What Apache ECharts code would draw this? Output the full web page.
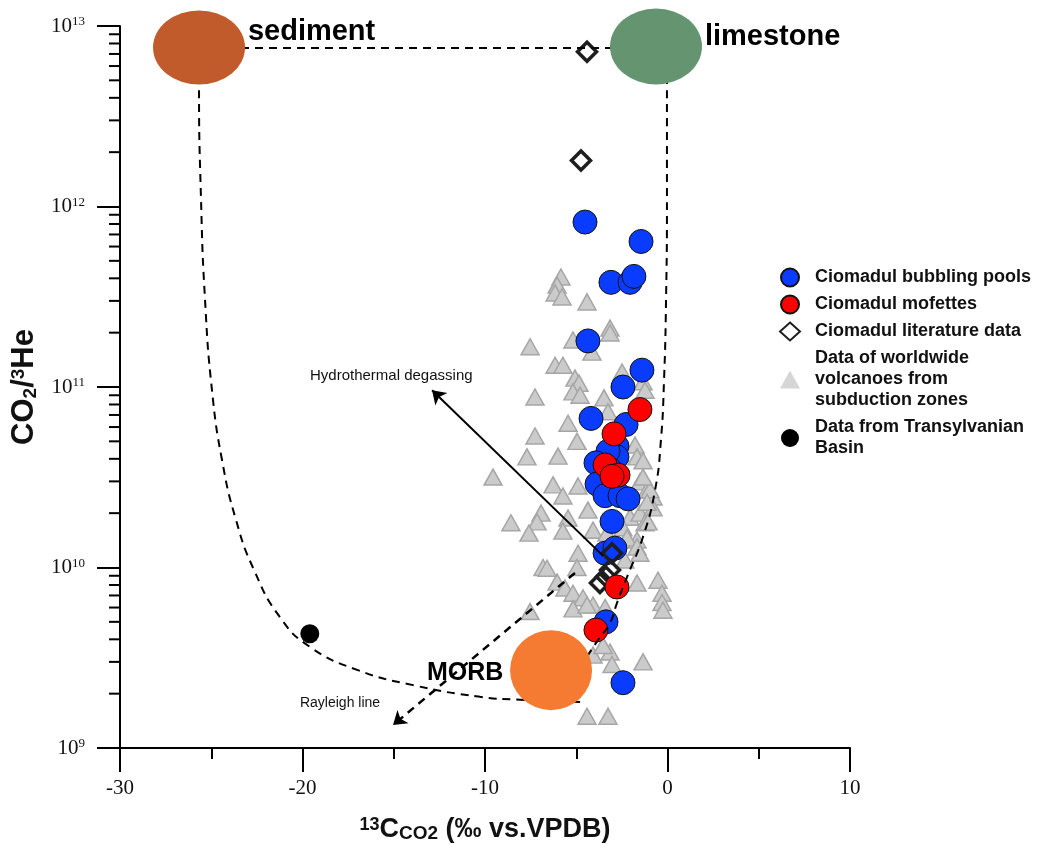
<!DOCTYPE html>
<html><head><meta charset="utf-8">
<script src="https://cdn.jsdelivr.net/npm/echarts@6/dist/echarts.min.js"></script>
<style>html,body{margin:0;padding:0;background:#fff}#c{width:1044px;height:844px}</style>
</head><body><div id="c"></div>
<script>
const bubblingPools = [[-4.52,8.2e11],[-1.45,6.4e11],[-3.10,3.8e11],[-2.05,3.8e11],[-1.84,4.1e11],[-4.36,1.8e11],[-1.40,1.24e11],[-2.44,1.0e11],[-4.19,6.7e10],[-2.27,6.2e10],[-2.77,4.7e10],[-2.77,4.1e10],[-3.26,4.4e10],[-3.92,3.8e10],[-3.15,3.5e10],[-3.86,2.9e10],[-3.42,2.5e10],[-2.60,2.5e10],[-2.16,2.4e10],[-3.04,1.8e10],[-3.42,1.2e10],[-2.88,1.28e10],[-3.37,5.0e9],[-2.44,2.3e9]];
const mofettes = [[-1.51,7.5e10],[-2.93,5.5e10],[-3.42,3.7e10],[-2.71,3.25e10],[-3.04,3.2e10],[-2.77,7.8e9],[-3.92,4.5e9]];
const literatureData = [[-4.41,7.2e12],[-4.74,1.8e12],[-3.04,1.2e10],[-3.15,9.7e9],[-3.37,8.9e9],[-3.70,8.2e9]];
const worldwideVolcanoes = [[-5.84,4.07e11],[-6.05,3.67e11],[-6.16,3.32e11],[-5.78,3.15e11],[-4.41,2.96e11],[-3.15,2.12e11],[-3.15,1.99e11],[-5.18,1.82e11],[-4.14,1.56e11],[-7.53,1.67e11],[-6.16,1.32e11],[-5.73,1.32e11],[-5.07,1.12e11],[-4.85,1.05e11],[-5.18,9.4e10],[-4.79,9.0e10],[-2.49,1.21e11],[-1.34,1.07e11],[-1.23,9.6e10],[-7.26,8.8e10],[-3.48,8.7e10],[-3.26,7.3e10],[-5.45,6.3e10],[-7.26,5.35e10],[-4.96,5.0e10],[-1.78,4.77e10],[-1.67,4.1e10],[-1.34,3.9e10],[-7.70,4.1e10],[-6.00,4.14e10],[-9.56,3.17e10],[-6.27,2.87e10],[-5.73,2.49e10],[-4.90,2.83e10],[-1.51,2.98e10],[-1.12,2.69e10],[-0.79,2.46e10],[-4.36,2.08e10],[-5.45,1.88e10],[-6.93,2.0e10],[-7.15,1.79e10],[-8.58,1.77e10],[-7.59,1.55e10],[-5.73,1.59e10],[-4.08,1.61e10],[-2.05,1.9e10],[-1.51,2.0e10],[-0.79,2.14e10],[-1.23,1.77e10],[-1.67,1.42e10],[-2.44,1.66e10],[-2.22,1.46e10],[-3.32,1.55e10],[-4.90,1.2e10],[-6.82,1.0e10],[-6.05,8.3e9],[-5.62,7.7e9],[-5.18,7.2e9],[-4.63,6.8e9],[-4.08,6.2e9],[-5.18,5.9e9],[-7.53,5.7e9],[-1.67,8.2e9],[-0.52,8.5e9],[-0.30,7.2e9],[-0.30,6.4e9],[-0.25,5.8e9],[-1.67,1.3e10],[-1.51,1.2e10],[-0.96,2.7e10],[-1.34,3.17e10],[-1.12,2.3e10],[-1.07,1.79e10],[-4.41,6.2e9],[-3.42,6.0e9],[-4.08,3.27e9],[-3.15,3.4e9],[-3.04,2.9e9],[-1.34,3.0e9],[-3.53,3.7e9],[-4.41,1.5e9],[-3.26,1.5e9],[-6.60,9.9e9],[-4.96,1.0e10],[-2.33,1.1e10]];
const transylvanianBasin = [[-19.6,4.3e9]];
const endMemberNames = ['sediment','limestone','MORB'];
const endMemberValues = [[-25.67,7.6e12],[-0.63,7.7e12],[-6.38,2.7e9]];
const mixSedimentLimestone = [[-25.67,7.55e12],[-0.03,7.55e12]];
const mixSedimentMorb = [[-25.67,7.55e12],[-25.67,4.71e12],[-25.56,1.09e12],[-25.34,3.03e11],[-24.96,9.6e10],[-24.41,3.94e10],[-23.64,1.83e10],[-22.66,9.7e9],[-21.23,5.3e9],[-19.59,3.63e9],[-17.01,2.71e9],[-13.95,2.23e9],[-10.27,1.92e9],[-8.08,1.85e9],[-4.79,1.80e9]];
const mixLimestoneMorb = [[-0.03,7.55e12],[-0.03,4.71e12],[-0.03,1.09e12],[-0.08,3.03e11],[-0.19,1.09e11],[-0.36,5.08e10],[-0.68,2.69e10],[-1.34,1.48e10],[-2.22,8.85e9],[-2.77,6.35e9],[-3.15,4.92e9],[-3.81,3.96e9],[-4.36,3.27e9]];
const rayleighLine = [[-5.07,9.33e9],[-15.04,1.34e9]];
const hydrothermalLine = [[-3.53,1.16e10],[-12.9,9.6e10]];
const yMinorTicks = [2e9,3e9,4e9,5e9,6e9,7e9,8e9,9e9,2e10,3e10,4e10,5e10,6e10,7e10,8e10,9e10,2e11,3e11,4e11,5e11,6e11,7e11,8e11,9e11,2e12,3e12,4e12,5e12,6e12,7e12,8e12,9e12];
const legendNames = ['Ciomadul bubbling pools','Ciomadul mofettes','Ciomadul literature data','Data of worldwide\nvolcanoes from\nsubduction zones','Data from Transylvanian\nBasin'];

const SANS = 'Liberation Sans', SERIF = 'Liberation Serif';
const chart = echarts.init(document.getElementById('c'));
const dash = [8, 6];
function curve(name, data, smooth) {
  return {type:'line', name, data, smooth, symbol:'none', silent:true, z:5,
    lineStyle:{color:'#000', width:2, type:dash}};
}
chart.setOption({
  animation:false,
  backgroundColor:'#fff',
  grid:{left:120, right:194, top:26, bottom:96, containLabel:false, outerBoundsMode:'none'},
  legend:{
    data:legendNames.map((n,i)=> i===3 ? {name:n, itemStyle:{color:'#d6d6d6', borderWidth:0}} : {name:n}),
    orient:'vertical', left:774, top:262, itemGap:6,
    itemWidth:20, itemHeight:18, selectedMode:false,
    textStyle:{fontFamily:SANS, fontSize:18, fontWeight:'bold', color:'#111', lineHeight:21, padding:[0,0,0,10]}
  },
  xAxis:{
    type:'value', min:-30, max:10, interval:10,
    axisLine:{onZero:false, lineStyle:{color:'#000', width:2}},
    axisTick:{length:24, lineStyle:{color:'#000', width:2}},
    minorTick:{show:true, splitNumber:2, length:11, lineStyle:{color:'#000', width:2}},
    splitLine:{show:false},
    axisLabel:{margin:30, fontFamily:SERIF, fontSize:21, color:'#111'},
    name:'{sup|13}{b|C}{sub|CO2}{b| (‰ vs.VPDB)}', nameLocation:'middle', nameGap:68,
    nameTextStyle:{rich:{
      b:{fontFamily:SANS, fontWeight:'bold', fontSize:27, color:'#111'},
      sup:{fontFamily:SANS, fontWeight:'bold', fontSize:18, color:'#111', verticalAlign:'top'},
      sub:{fontFamily:SANS, fontWeight:'bold', fontSize:19, color:'#111', verticalAlign:'bottom'}
    }}
  },
  yAxis:{
    type:'log', logBase:10, min:1e9, max:1e13,
    axisLine:{show:true, onZero:false, lineStyle:{color:'#000', width:2}},
    axisTick:{show:true, length:23, lineStyle:{color:'#000', width:2}},
    splitLine:{show:false},
    axisLabel:{margin:35, formatter:v=>'{n|10}{s|'+Math.round(Math.log10(v))+'}',
      rich:{n:{fontFamily:SERIF, fontSize:21, color:'#111'}, s:{fontFamily:SERIF, fontSize:13, color:'#111', verticalAlign:'top'}}},
    name:'{b|CO}{sub|2}{b|/}{sup|3}{b|He}', nameLocation:'middle', nameGap:64,
    nameTextStyle:{rich:{
      b:{fontFamily:SANS, fontWeight:'bold', fontSize:31, color:'#111'},
      sup:{fontFamily:SANS, fontWeight:'bold', fontSize:19, color:'#111', verticalAlign:'top'},
      sub:{fontFamily:SANS, fontWeight:'bold', fontSize:19, color:'#111', verticalAlign:'bottom'}
    }}
  },
  series:[
    {type:'scatter', name:legendNames[3], data:worldwideVolcanoes, symbol:'triangle', symbolSize:[18,16], z:2,
      itemStyle:{color:'#cbcbcb', borderColor:'#a6a6a6', borderWidth:1.5, opacity:1}},
    {type:'scatter', name:legendNames[0], data:bubblingPools, symbol:'circle', symbolSize:24, z:2,
      itemStyle:{color:'#0a3cff', borderColor:'#111', borderWidth:1, opacity:1}},
    {type:'scatter', name:legendNames[2], data:literatureData, symbol:'diamond', symbolSize:[19,19], z:2,
      itemStyle:{color:'rgba(255,255,255,0)', borderColor:'#1e1e1e', borderWidth:3.5, opacity:1}},
    {type:'scatter', name:legendNames[1], data:mofettes, symbol:'circle', symbolSize:24, z:2,
      itemStyle:{color:'#ff0000', borderColor:'#111', borderWidth:1, opacity:1}},
    {type:'scatter', name:legendNames[4], data:transylvanianBasin, symbol:'circle', symbolSize:19, z:2,
      itemStyle:{color:'#000', opacity:1}},
    curve('mixSL', mixSedimentLimestone, false),
    curve('mixSM', mixSedimentMorb, 0.5),
    curve('mixLM', mixLimestoneMorb, 0.5),
    {type:'scatter', name:'arrows', data:[], z:5, silent:true,
      markLine:{silent:true, symbol:['none','arrow'], symbolSize:13, animation:false,
        label:{show:false}, itemStyle:{color:'#000'}, lineStyle:{color:'#000', width:2},
        emphasis:{disabled:true},
        data:[
          [{coord:hydrothermalLine[0], lineStyle:{type:'solid', width:2, color:'#000'}}, {coord:hydrothermalLine[1]}],
          [{coord:rayleighLine[0], lineStyle:{type:dash, width:2.5, color:'#000'}}, {coord:rayleighLine[1]}]
        ]}},
    {type:'scatter', name:'endmembers', z:6, silent:true,
      data:endMemberValues.map((v,i)=>({name:endMemberNames[i], value:v,
        symbolSize:[[92,74],[92,76],[82,80]][i],
        itemStyle:{color:['#c25b2b','#659470','#f57a32'][i]}})),
      itemStyle:{opacity:1}},
    {type:'scatter', name:'labels', z:7, silent:true, symbolSize:0, itemStyle:{opacity:1},
      label:{show:true, position:[0,0], align:'left', verticalAlign:'middle', formatter:'{b}', color:'#000', fontFamily:SANS, opacity:1},
      data:[
        {name:'sediment', value:[-22.99,9.27e12], label:{fontSize:29, fontWeight:'bold', color:'#000'}},
        {name:'limestone', value:[2.05,8.7e12], label:{fontSize:29, fontWeight:'bold', color:'#000'}},
        {name:'MORB', value:[-13.18,2.6e9], label:{fontSize:25, fontWeight:'bold', color:'#000'}},
        {name:'Hydrothermal degassing', value:[-19.59,1.15e11], label:{fontSize:15, color:'#111'}},
        {name:'Rayleigh line', value:[-20.14,1.78e9], label:{fontSize:14, color:'#111'}}
      ]},
    {type:'custom', name:'yMinor', silent:true, clip:false, z:8,
      data:yMinorTicks.map(v=>[-30,v]),
      renderItem:(params, api)=>{
        const p = api.coord([api.value(0), api.value(1)]);
        return {type:'line', shape:{x1:p[0]-11, y1:p[1], x2:p[0], y2:p[1]}, style:{stroke:'#000', lineWidth:2}};
      }}
  ]
});
</script></body></html>
